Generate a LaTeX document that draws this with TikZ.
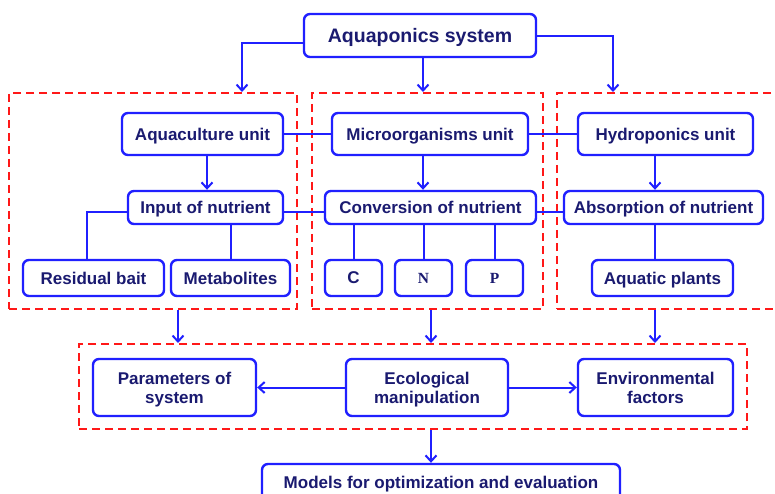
\documentclass[tikz,border=0pt]{standalone}
\usepackage{fontspec}
\setmainfont{Liberation Sans}
\newfontfamily\serifbold{Liberation Serif}
\usetikzlibrary{arrows.meta}
\definecolor{bblue}{RGB}{32,32,255}
\definecolor{navy}{RGB}{26,26,112}
\definecolor{dred}{RGB}{255,24,24}
\tikzset{
  box/.style={draw=bblue, line width=2.4pt, rounded corners=6pt, fill=white, text=navy,
    font=\bfseries\fontsize{17}{19}\selectfont, inner sep=0pt, align=center, text depth=0pt},
  dbox/.style={draw=dred, line width=2pt, dash pattern=on 8pt off 5pt, inner sep=0pt},
  conn/.style={draw=bblue, line width=2pt},
  arr/.style={conn, -{Straight Barb[length=6pt,width=11pt,line width=2pt]}},
}
\begin{document}
\begin{tikzpicture}[x=1pt,y=-1pt]
\clip (0,0) rectangle (775,494);
\fill[white] (0,0) rectangle (775,494);
% dashed groups
\node[dbox, minimum width=288, minimum height=216] (L) at (153,201) {};
\node[dbox, minimum width=231, minimum height=216] (M) at (427.5,201) {};
\node[dbox, minimum width=233, minimum height=216] (R) at (673.5,201) {};
\node[dbox, minimum width=668, minimum height=85] (B) at (413,386.5) {};
% boxes
\node[box, minimum width=232, minimum height=43, font=\bfseries\fontsize{19.5}{22}\selectfont] (top) at (420,35.5) {Aquaponics system};
\node[box, minimum width=161, minimum height=42] (aqua) at (202.5,134) {Aquaculture unit};
\node[box, minimum width=196, minimum height=42] (micro) at (430,134) {Microorganisms unit};
\node[box, minimum width=175, minimum height=42] (hydro) at (665.5,134) {Hydroponics unit};
\node[box, minimum width=155, minimum height=33] (input) at (205.5,207.5) {Input of nutrient};
\node[box, minimum width=211, minimum height=33] (conv) at (430.5,207.5) {Conversion of nutrient};
\node[box, minimum width=199, minimum height=33] (absorb) at (663.5,207.5) {Absorption of nutrient};
\node[box, minimum width=141, minimum height=36] (resid) at (93.5,278) {Residual bait};
\node[box, minimum width=119, minimum height=36] (metab) at (230.5,278) {Metabolites};
\node[box, minimum width=57, minimum height=36] (C) at (353.5,278) {C};
\node[box, minimum width=57, minimum height=36, font=\serifbold\bfseries\fontsize{15.5}{18}\selectfont] (N) at (423.5,278) {N};
\node[box, minimum width=57, minimum height=36, font=\serifbold\bfseries\fontsize{15.5}{18}\selectfont] (P) at (494.5,278) {P};
\node[box, minimum width=141, minimum height=36] (plants) at (662.5,278) {Aquatic plants};
\node[box, minimum width=163, minimum height=57] (params) at (174.5,387.5) {Parameters of\\system};
\node[box, minimum width=162, minimum height=57] (eco) at (427,387.5) {Ecological\\manipulation};
\node[box, minimum width=155, minimum height=57] (env) at (655.5,387.5) {Environmental\\factors};
\node[box, minimum width=358, minimum height=36] (models) at (441,482) {Models for optimization and evaluation};
% top arrows
\draw[arr] ([yshift=-7.5]top.west) -| ([xshift=89]L.north);
\draw[arr] ([xshift=3]top.south) -- ([xshift=3]top.south |- M.north);
\draw[arr] ([yshift=-0.5]top.east) -| ([xshift=-60.5]R.north);
% unit row links
\draw[conn] (aqua.east) -- (micro.west);
\draw[conn] (micro.east) -- (hydro.west);
\draw[arr] ([xshift=4.5]aqua.south) -- ([xshift=4.5]aqua.south |- input.north);
\draw[arr] ([xshift=-7]micro.south) -- ([xshift=-7]micro.south |- conv.north);
\draw[arr] ([xshift=-10.5]hydro.south) -- ([xshift=-10.5]hydro.south |- absorb.north);
% nutrient row links
\draw[conn] ([yshift=-4.5]input.east) -- ([yshift=-4.5]conv.west);
\draw[conn] ([yshift=-4.5]conv.east) -- ([yshift=-4.5]absorb.west);
\draw[conn] ([yshift=-4.5]input.west) -| ([xshift=-6.5]resid.north);
\draw[conn] (metab.north |- input.south) -- (metab.north);
\draw[conn] (C.north |- conv.south) -- (C.north);
\draw[conn] (N.north |- conv.south) -- (N.north);
\draw[conn] (P.north |- conv.south) -- (P.north);
\draw[conn] ([xshift=-7.5]plants.north |- absorb.south) -- ([xshift=-7.5]plants.north);
% down to bottom group
\draw[arr] ([xshift=25]L.south) -- ([xshift=25]L.south |- B.north);
\draw[arr] ([xshift=3.5]M.south) -- ([xshift=3.5]M.south |- B.north);
\draw[arr] ([xshift=-18.5]R.south) -- ([xshift=-18.5]R.south |- B.north);
\draw[arr] (eco.west) -- (params.east);
\draw[arr] (eco.east) -- (env.west);
\draw[arr] ([xshift=18]B.south) -- ([xshift=18]B.south |- models.north);
\end{tikzpicture}
\end{document}
